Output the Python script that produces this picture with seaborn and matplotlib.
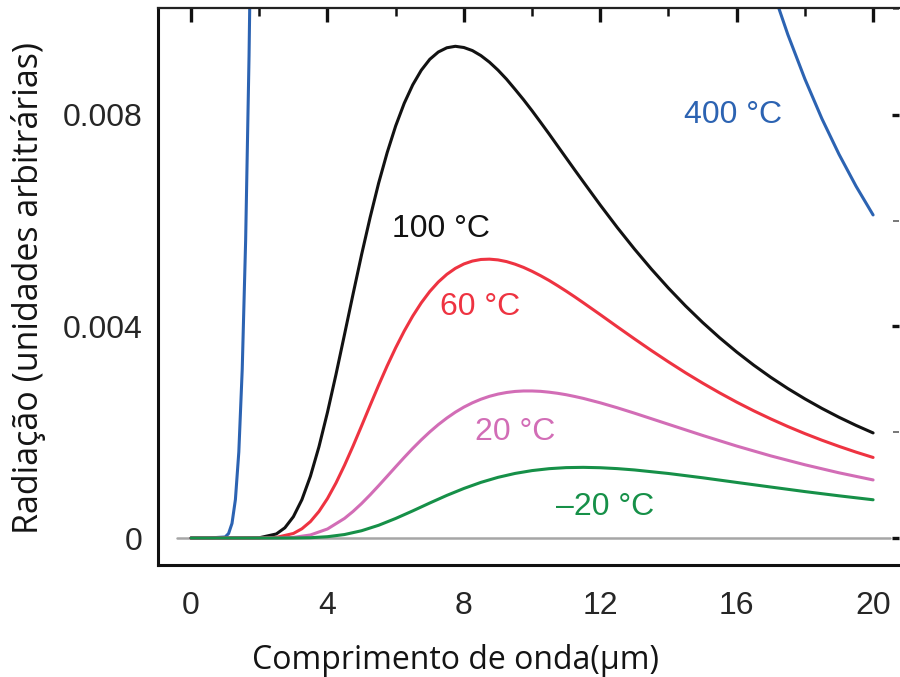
import matplotlib
matplotlib.use("Agg")
import matplotlib.pyplot as plt
import seaborn as sns
from matplotlib.ticker import MultipleLocator, FixedLocator

# ---- data (wavelength in µm, radiation in arbitrary units) ----
wl_100 = [0, 1, 2, 2.5, 2.75, 3, 3.25, 3.5, 3.75, 4, 4.25, 4.5, 4.75, 5, 5.25, 5.5, 5.75,
          6, 6.25, 6.5, 6.75, 7, 7.25, 7.5, 7.75, 8, 8.25, 8.5, 8.75, 9, 9.25, 9.5, 9.75,
          10, 10.25, 10.5, 10.75, 11, 11.25, 11.5, 12, 12.5, 13, 13.5, 14, 14.5, 15, 15.5,
          16, 16.5, 17, 17.5, 18, 18.5, 19, 19.5, 20]
rad_100 = [0, 0, 0.000005, 0.000077, 0.000193, 0.000403, 0.000725, 0.001169, 0.001725,
           0.002377, 0.003094, 0.003850, 0.004611, 0.005357, 0.006059, 0.006709, 0.007285,
           0.007791, 0.008218, 0.008567, 0.008843, 0.009050, 0.009188, 0.009268, 0.009296,
           0.009273, 0.009215, 0.009120, 0.008996, 0.008846, 0.008675, 0.008483, 0.008286,
           0.008077, 0.007859, 0.007638, 0.007411, 0.007185, 0.006959, 0.006736, 0.006294,
           0.005869, 0.005465, 0.005083, 0.004724, 0.004388, 0.004076, 0.003786, 0.003517,
           0.003268, 0.003038, 0.002826, 0.002631, 0.002450, 0.002283, 0.002129, 0.001987]

wl_60 = [0, 1, 2, 2.5, 3, 3.25, 3.5, 3.75, 4, 4.25, 4.5, 4.75, 5, 5.25, 5.5, 5.75, 6, 6.25,
         6.5, 6.75, 7, 7.25, 7.5, 7.75, 8, 8.25, 8.5, 8.75, 9, 9.25, 9.5, 9.75, 10, 10.25,
         10.5, 10.75, 11, 11.25, 11.5, 12, 12.5, 13, 13.5, 14, 14.5, 15, 15.5, 16, 16.5, 17,
         17.5, 18, 18.5, 19, 19.5, 20]
rad_60 = [0, 0, 0, 0.000012, 0.000086, 0.000175, 0.000311, 0.000502, 0.000747, 0.001041,
          0.001376, 0.001739, 0.002120, 0.002507, 0.002888, 0.003254, 0.003597, 0.003912,
          0.004196, 0.004446, 0.004661, 0.004840, 0.004985, 0.005098, 0.005181, 0.005236,
          0.005266, 0.005272, 0.005258, 0.005226, 0.005177, 0.005116, 0.005042, 0.004959,
          0.004869, 0.004770, 0.004667, 0.004560, 0.004449, 0.004223, 0.003993, 0.003766,
          0.003544, 0.003330, 0.003124, 0.002929, 0.002744, 0.002569, 0.002405, 0.002252,
          0.002108, 0.001974, 0.001849, 0.001733, 0.001624, 0.001523]

wl_20 = [0, 1, 2, 2.5, 3, 3.5, 4, 4.5, 4.75, 5, 5.25, 5.5, 5.75, 6, 6.25, 6.5, 6.75, 7,
         7.25, 7.5, 7.75, 8, 8.25, 8.5, 8.75, 9, 9.25, 9.5, 9.75, 10, 10.25, 10.5, 10.75,
         11, 11.25, 11.5, 12, 12.5, 13, 14, 15, 16, 17, 18, 19, 20]
rad_20 = [0, 0, 0, 0, 0.000012, 0.000058, 0.000171, 0.000371, 0.000503, 0.000652,
          0.000816, 0.000989, 0.001167, 0.001346, 0.001523, 0.001694, 0.001855, 0.002006,
          0.002144, 0.002268, 0.002379, 0.002475, 0.002556, 0.002624, 0.002679, 0.002721,
          0.002751, 0.002771, 0.002780, 0.002780, 0.002773, 0.002757, 0.002736, 0.002709,
          0.002676, 0.002640, 0.002556, 0.002462, 0.002361, 0.002150, 0.001940, 0.001739,
          0.001553, 0.001385, 0.001233, 0.001098]

wl_m20 = [0, 1, 2, 2.5, 3, 3.5, 4, 4.5, 5, 5.5, 6, 6.5, 7, 7.5, 8, 8.5, 9, 9.5,
          10, 10.5, 11, 11.5, 12, 12.5, 13, 14, 15, 16, 17, 18, 19, 20]
rad_m20 = [0, 0, 0, 0, 0.000001, 0.000006, 0.000025, 0.000066, 0.000138, 0.000241, 0.000370,
           0.000513, 0.000662, 0.000806, 0.000937, 0.001052, 0.001147, 0.001221, 0.001275,
           0.001311, 0.001331, 0.001336, 0.001329, 0.001312, 0.001287, 0.001220, 0.001139,
           0.001051, 0.000964, 0.000878, 0.000798, 0.000723]

# 400 °C: only the parts inside the plotted range
wl_400_short = [0, 0.5, 1.0, 1.1, 1.2, 1.3, 1.4, 1.5, 1.6, 1.7, 1.8, 1.9]
rad_400_short = [0, 0, 0.00002, 0.000085, 0.000276, 0.000728, 0.001627, 0.003190,
                 0.005625, 0.009116, 0.01378, 0.01965]
wl_400_long = [16, 17, 17.5, 18, 18.5, 19, 19.5, 20]
rad_400_long = [0.01271, 0.010459, 0.009518, 0.008678, 0.007926, 0.007255, 0.006651, 0.006108]

baseline_x = [-0.4, 20.5]
baseline_y = [0, 0]

labels = ["100 °C", "60 °C", "20 °C", "\u201320 °C", "400 °C"]
label_x = [5.89, 7.30, 8.33, 10.70, 14.46]
label_y = [0.00570, 0.00421, 0.00185, 0.00044, 0.00784]

x_ticks = [0, 4, 8, 12, 16, 20]
y_ticks = [0, 0.004, 0.008]
y_tick_labels = ["0", "0.004", "0.008"]

colors = {"100": "#121212", "60": "#ee3341", "20": "#d26db6", "-20": "#169048", "400": "#2c63b2"}
label_colors = [colors["100"], colors["60"], colors["20"], colors["-20"], colors["400"]]

# ---- figure ----
sns.set_style("white")
plt.rcParams["font.family"] = ["Liberation Sans", "DejaVu Sans"]

fig = plt.figure(figsize=(9, 6.77), dpi=100)
ax = fig.add_axes([158 / 900, 1 - 565 / 677, 741 / 900, (565 - 8) / 677])

lw = 2.2
line_kw = dict(ax=ax, linewidth=lw, sort=False)
sns.lineplot(x=baseline_x, y=baseline_y, ax=ax, color="#a6a6a6", linewidth=1.8, sort=False)
sns.lineplot(x=wl_400_short, y=rad_400_short, color=colors["400"], **line_kw)
sns.lineplot(x=wl_400_long, y=rad_400_long, color=colors["400"], **line_kw)
sns.lineplot(x=wl_100, y=rad_100, color=colors["100"], **line_kw)
sns.lineplot(x=wl_60, y=rad_60, color=colors["60"], **line_kw)
sns.lineplot(x=wl_20, y=rad_20, color=colors["20"], **line_kw)
sns.lineplot(x=wl_m20, y=rad_m20, color=colors["-20"], **line_kw)
for ln in ax.get_lines():
    ln.set_solid_joinstyle("round")

for t, x, y, c in zip(labels, label_x, label_y, label_colors):
    ax.text(x, y, t, color=c, fontsize=23, ha="left", va="baseline",
            family=["Liberation Sans", "DejaVu Sans"])

ax.set_xlim(-0.97, 20.76)
ax.set_ylim(-0.00051, 0.01002)

ax.xaxis.set_major_locator(FixedLocator(x_ticks))
ax.xaxis.set_minor_locator(MultipleLocator(2))
ax.yaxis.set_major_locator(FixedLocator(y_ticks))
ax.yaxis.set_minor_locator(MultipleLocator(0.002))
ax.set_yticklabels(y_tick_labels)
ax.set_xticklabels([str(v) for v in x_ticks])

ax.tick_params(axis="x", which="major", direction="out", length=9.5, width=2.4,
               labelsize=23, pad=9, color="#111111")
ax.tick_params(axis="x", which="minor", direction="out", length=5, width=2.0, color="#111111")
ax.tick_params(axis="y", which="major", direction="in", length=10, width=2.4,
               labelsize=23, pad=11, color="#111111")
ax.tick_params(axis="y", which="minor", direction="in", length=5, width=1.8, color="#111111")

for s in ["left", "bottom"]:
    ax.spines[s].set_linewidth(2.2)
    ax.spines[s].set_color("#111111")
ax.spines["top"].set_linewidth(1.6)
ax.spines["top"].set_color("#222222")
ax.spines["right"].set_visible(False)

top = ax.secondary_xaxis("top")
top.xaxis.set_major_locator(FixedLocator(x_ticks))
top.xaxis.set_minor_locator(MultipleLocator(2))
top.tick_params(axis="x", which="major", direction="in", length=10, width=2.4, labeltop=False, color="#111111")
top.tick_params(axis="x", which="minor", direction="in", length=6, width=1.8, labeltop=False, color="#111111")
top.spines["top"].set_visible(False)

right = ax.secondary_yaxis("right")
right.yaxis.set_major_locator(FixedLocator(y_ticks))
right.yaxis.set_minor_locator(MultipleLocator(0.002))
right.tick_params(axis="y", which="major", direction="in", length=5, width=2.4, labelright=False, color="#111111")
right.tick_params(axis="y", which="minor", direction="in", length=4, width=1.4, labelright=False, color="#777777")
right.spines["right"].set_visible(False)

ax.set_xlabel("Comprimento de onda(μm)", fontsize=23, family=["Open Sans", "DejaVu Sans"],
              color="#141414", va="center")
ax.xaxis.set_label_coords(0.401, -0.172)
ax.set_ylabel("Radiação (unidades arbitrárias)", fontsize=24.5, family=["Open Sans", "DejaVu Sans"],
              color="#141414", va="center")
ax.yaxis.set_label_coords(-0.1754, 0.498)

fig.savefig("out.png", dpi=100)
